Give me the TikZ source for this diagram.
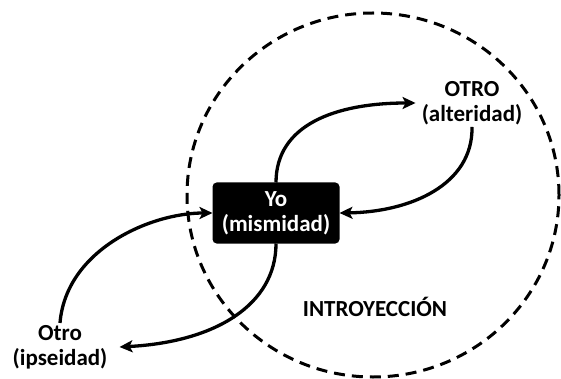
\documentclass[tikz,border=0pt]{standalone}
\usepackage{fontspec}
\setmainfont{Carlito}
\usetikzlibrary{arrows.meta}
\tikzset{
  lbl/.style={font=\bfseries\fontsize{23}{25}\selectfont,align=center,inner sep=2pt},
  selfbox/.style={lbl,draw=black,fill=black,text=white,line width=3pt,rounded corners=3pt,
    minimum width=124pt,minimum height=58pt,inner sep=1pt},
  bond/.style={-{Stealth[length=13pt,width=12pt,inset=3pt]},line width=3.3pt,draw=black},
  zone/.style={draw=black,line width=3pt,dash pattern=on 11pt off 7pt}
}
\begin{document}
\begin{tikzpicture}[x=1pt,y=-1pt]
  \useasboundingbox (0,0) rectangle (561,379);
  \draw[zone] (373,195) ellipse [x radius=186pt,y radius=182pt];
  \node[selfbox] (yo) at (276,213) {Yo\\(mismidad)};
  \node[lbl] (alter) at (472,103) {OTRO\\(alteridad)};
  \node[lbl] (ipse) at (60,347) {Otro\\(ipseidad)};
  \node[lbl] (intro) at (375,307) {INTROYECCIÓN};
  \draw[bond] (ipse.north) .. controls (66,250) and (150,213) .. (yo.west);
  \draw[bond] (yo.south) .. controls (276,305) and (215,342) .. ([xshift=10pt]ipse.east);
  \draw[bond] (yo.north) .. controls (276,125) and (335,103) .. ([xshift=-4pt]alter.west);
  \draw[bond] (alter.south) .. controls (473,185) and (410,212) .. (yo.east);
\end{tikzpicture}
\end{document}
